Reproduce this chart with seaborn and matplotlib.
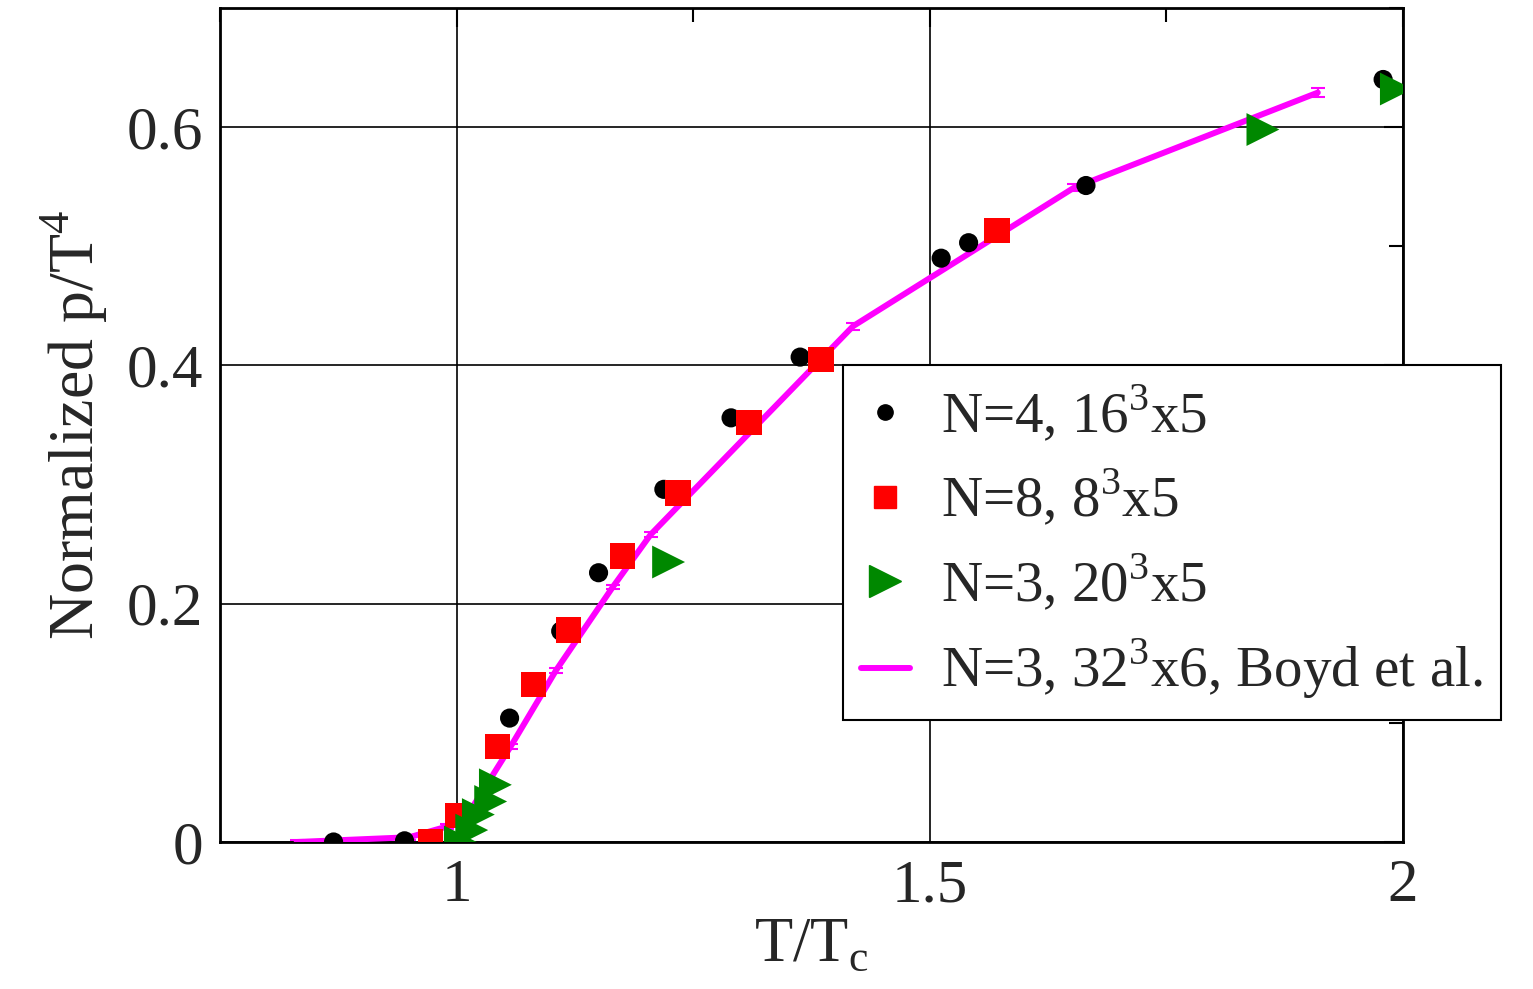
import matplotlib
matplotlib.use("Agg")
import matplotlib.pyplot as plt
import seaborn as sns
import pandas as pd
import numpy as np
from matplotlib.lines import Line2D
from matplotlib.ticker import MultipleLocator

# Data
n4_T = [0.870, 0.945, 1.056, 1.110, 1.150, 1.219, 1.290, 1.363, 1.512, 1.541, 1.665, 1.979]
n4_p = [0.000, 0.001, 0.104, 0.177, 0.226, 0.296, 0.356, 0.407, 0.490, 0.503, 0.551, 0.640]

n8_T = [0.9725, 1.001, 1.043, 1.081, 1.118, 1.175, 1.234, 1.309, 1.385, 1.571]
n8_p = [0.000, 0.022, 0.080, 0.132, 0.178, 0.240, 0.293, 0.352, 0.405, 0.513]

n3_T = [1.004, 1.016, 1.023, 1.036, 1.041, 1.224, 1.852, 1.993]
n3_p = [0.000, 0.010, 0.023, 0.034, 0.048, 0.235, 0.598, 0.632]

boyd_T = [0.831, 0.950, 0.990, 1.010, 1.027, 1.057, 1.105, 1.165, 1.205, 1.419, 1.652, 1.910]
boyd_p = [0.000, 0.004, 0.013, 0.021, 0.042, 0.080, 0.144, 0.214, 0.258, 0.433, 0.549, 0.629]
boyd_err = [0.002, 0.002, 0.002, 0.002, 0.002, 0.002, 0.002, 0.002, 0.002, 0.003, 0.003, 0.004]

labels = ["N=4, 16$^\\mathregular{3}$x5", "N=8, 8$^\\mathregular{3}$x5",
          "N=3, 20$^\\mathregular{3}$x5", "N=3, 32$^\\mathregular{3}$x6, Boyd et al."]

sns.set_style("white")
plt.rcParams['font.family'] = ['Liberation Serif', 'DejaVu Serif']
plt.rcParams['mathtext.fontset'] = 'custom'
plt.rcParams['mathtext.rm'] = 'Liberation Serif'

fig = plt.figure(figsize=(15.33, 9.89), dpi=100)
ax = fig.add_axes([220/1533, 1-842/989, (1403-220)/1533, (842-8)/989])

df_b = pd.DataFrame({"T": boyd_T, "p": boyd_p})
sns.lineplot(data=df_b, x="T", y="p", ax=ax, color="#ff00ff", lw=4.3, zorder=3, sort=False)
ax.errorbar(boyd_T, boyd_p, yerr=boyd_err, fmt="none", ecolor="#ff00ff", elinewidth=1.5,
            capsize=5, capthick=1.5, zorder=3)

sns.scatterplot(x=n4_T, y=n4_p, ax=ax, marker="o", s=190, color="black", edgecolor="none", zorder=4)
sns.scatterplot(x=n8_T, y=n8_p, ax=ax, marker="s", s=330, color="#ff0000", edgecolor="none", zorder=5)
sns.scatterplot(x=n3_T, y=n3_p, ax=ax, marker=">", s=560, color="#008800", edgecolor="none", zorder=6)

ax.set_xlim(0.75, 2.0)
ax.set_ylim(0, 0.7)
ax.set_xticks([1.0, 1.5, 2.0])
ax.set_xticklabels(["1", "1.5", "2"])
ax.set_yticks([0, 0.2, 0.4, 0.6])
ax.set_yticklabels(["0", "0.2", "0.4", "0.6"])
ax.xaxis.set_minor_locator(MultipleLocator(0.25))
ax.yaxis.set_minor_locator(MultipleLocator(0.1))
ax.grid(True, which="major", color="black", lw=1.2)
ax.set_axisbelow(True)
for sp in ax.spines.values():
    sp.set_color("black")
    sp.set_linewidth(2)
ax.tick_params(which="both", direction="in", top=True, right=True, labelsize=44, color="black")
ax.tick_params(which="major", length=14, width=1.5, pad=12)
ax.tick_params(which="minor", length=10, width=1.5)

ax.set_xlabel("T/T$_\\mathregular{c}$", fontsize=45, labelpad=2)
ax.set_ylabel("Normalized p/T$^\\mathregular{4}$", fontsize=46, labelpad=12)

handles = [
    Line2D([], [], ls="none", marker="o", ms=11, color="black"),
    Line2D([], [], ls="none", marker="s", ms=16, color="#ff0000"),
    Line2D([], [], ls="none", marker=">", ms=23, color="#008800"),
    Line2D([], [], color="#ff00ff", lw=4.3),
]
leg = ax.legend(handles, labels, loc="upper left", bbox_to_anchor=((843-220)/1183, (842-365)/834),
                fontsize=41, frameon=True, fancybox=False, framealpha=1, edgecolor="black",
                handlelength=0.85, handletextpad=0.55, labelspacing=0.42, borderpad=0.32,
                borderaxespad=0)
leg.get_frame().set_linewidth(1.5)
leg.set_zorder(10)

fig.savefig("out.png", dpi=100)
